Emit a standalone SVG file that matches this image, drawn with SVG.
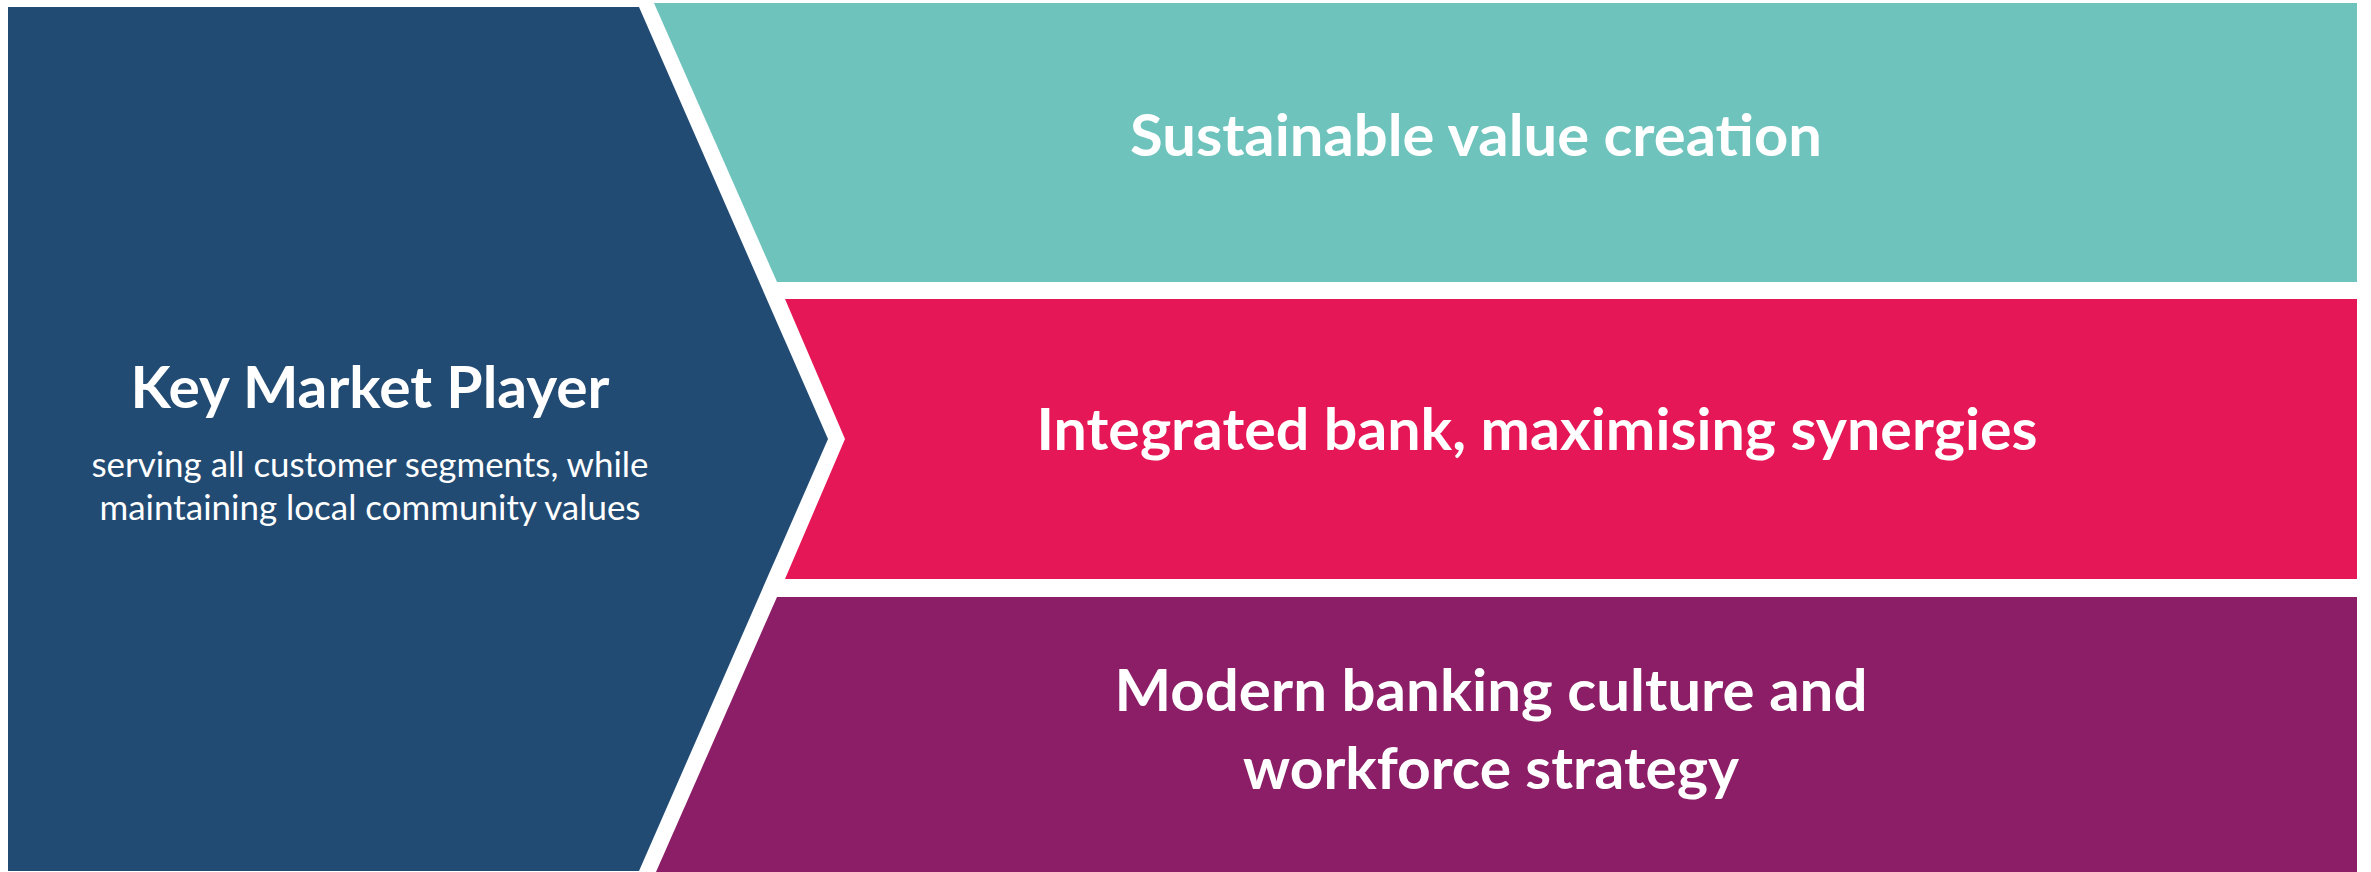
<svg xmlns="http://www.w3.org/2000/svg" width="2371" height="872" viewBox="0 0 2371 872">
  <style>
    .title { font-family: Lato, "Liberation Sans", sans-serif; font-weight: 700; font-size: 57px; fill: #ffffff; text-anchor: middle; }
    .sub { font-family: Lato, "Liberation Sans", sans-serif; font-weight: 400; font-size: 34px; fill: #ffffff; text-anchor: middle; }
  </style>
  <rect width="2371" height="872" fill="#ffffff"/>

  <!-- chevron on the left -->
  <g id="key-market-player">
    <polygon points="8,7 639,7 828,439 639,871 8,871" fill="#224B73"/>
    <text class="title" x="370" y="408" textLength="479" lengthAdjust="spacingAndGlyphs">Key Market Player</text>
    <text class="sub" x="370" y="477" textLength="557" lengthAdjust="spacingAndGlyphs">serving all customer segments, while</text>
    <text class="sub" x="370" y="520" textLength="541" lengthAdjust="spacingAndGlyphs">maintaining local community values</text>
  </g>

  <!-- three pillars on the right -->
  <g id="sustainable-value">
    <polygon points="654,3 2357,3 2357,282 777,282" fill="#6EC3BD"/>
    <text class="title" x="1476" y="156" textLength="692" lengthAdjust="spacingAndGlyphs">Sustainable value creation</text>
  </g>

  <g id="integrated-bank">
    <polygon points="785,299 2357,299 2357,579 785,579 845,439" fill="#E61756"/>
    <text class="title" x="1537" y="450" textLength="1001" lengthAdjust="spacingAndGlyphs">Integrated bank, maximising synergies</text>
  </g>

  <g id="modern-culture">
    <polygon points="777,597 2357,597 2357,872 656,872" fill="#8B1E67"/>
    <text class="title" x="1491" y="711" textLength="753" lengthAdjust="spacingAndGlyphs">Modern banking culture and</text>
    <text class="title" x="1491" y="789" textLength="496" lengthAdjust="spacingAndGlyphs">workforce strategy</text>
  </g>

  <g id="connectors"/>
</svg>
